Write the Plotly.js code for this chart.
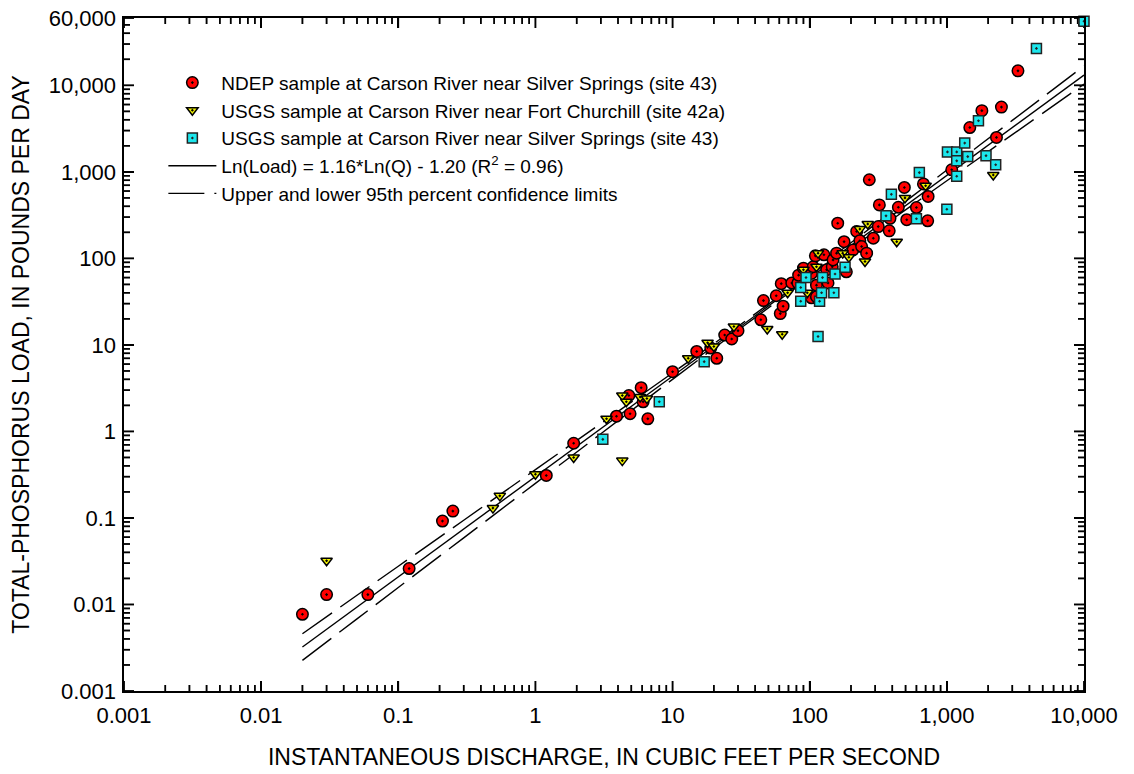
<!DOCTYPE html>
<html>
<head>
<meta charset="utf-8">
<script src="https://cdn.plot.ly/plotly-3.0.1.min.js"></script>
<style>
  html, body { margin: 0; padding: 0; background: #ffffff; }
  #chart { width: 1134px; height: 774px; }
</style>
</head>
<body>
<div id="chart"></div>
<script>
// ---- Data ----
// NDEP sample at Carson River near Silver Springs (site 43)
const ndepQ = [0.02, 0.03, 0.06, 0.12, 0.21, 0.25, 1.2, 1.9, 3.9, 4.9, 6.6, 4.8, 5.9, 6.1, 10,
  15, 19, 21, 24, 27, 30, 44, 46, 57, 61, 64, 62, 74, 82, 83, 90, 103, 103, 106, 110, 112, 112,
  127, 133, 136, 146, 148, 157, 160, 178, 185, 207, 220, 232, 239, 260, 272, 291, 316, 322,
  380, 385, 443, 490, 510, 600, 675, 725, 730, 1085, 1470, 1800, 2300, 2500, 3300];
const ndepLoad = [0.0077, 0.013, 0.013, 0.026, 0.092, 0.12, 0.31, 0.73, 1.5, 1.6, 1.4, 2.6, 3.2, 2.2, 4.9,
  8.4, 9.2, 7.0, 13, 11.7, 14.6, 19.5, 32.5, 37, 23, 28, 51, 52, 52, 64, 77, 67, 35, 80, 107, 36, 49,
  110, 74, 52, 80, 96, 115, 255, 156, 70, 125, 205, 160, 137, 115, 810, 171, 233, 415,
  208, 290, 390, 660, 280, 387, 725, 272, 520, 1055, 3250, 5100, 2500, 5600, 14700];

// USGS sample at Carson River near Fort Churchill (site 42a)
const fcQ = [0.03, 0.49, 0.55, 1.0, 1.9, 3.3, 4.3, 4.3, 4.6, 5.8, 6.5, 13, 18, 20, 28, 49, 63,
  69, 90, 96, 112, 115, 174, 193, 232, 253, 265, 431, 495, 700, 2180];
const fcLoad = [0.032, 0.13, 0.18, 0.32, 0.50, 1.4, 0.46, 2.6, 2.2, 2.5, 2.4, 7.0, 10.6, 9.6, 16.3, 15.3, 13.3,
  40, 74, 40, 80, 115, 115, 103, 218, 92, 250, 156, 500, 690, 920];

// USGS sample at Carson River near Silver Springs (site 43)
const ssQ = [3.1, 8.0, 17, 86, 86, 94, 115, 118, 122, 124, 150, 153, 181, 360, 394, 600, 630,
  1000, 1010, 1180, 1180, 1180, 1350, 1420, 1700, 1930, 2270, 4500, 10000];
const ssLoad = [0.81, 2.2, 6.4, 32, 46, 60, 12.5, 32, 40, 60, 40, 66, 79, 310, 550, 287, 980,
  370, 1700, 1700, 1340, 890, 2150, 1500, 3900, 1540, 1210, 26700, 55000];

// Regression line Ln(Load) = 1.16*Ln(Q) - 1.20, end points
const fitQ = [0.02, 10000];
const fitLoad = [0.00322, 13150];

// 95th percent confidence limits
const ciQ = [0.02, 0.05, 0.1, 0.3, 1, 3, 10, 30, 100, 300, 1000, 3000, 10000];
const ciUpper = [0.00459, 0.01278, 0.02767, 0.0942, 0.3614, 1.233, 4.746, 16.40, 66.55, 246.9, 1049, 3933, 16750];
const ciLower = [0.00226, 0.00682, 0.01570, 0.0589, 0.2512, 0.941, 3.998, 14.79, 59.56, 205.1, 789.4, 2691, 10330];

// Axis tick labels
const xTickVals = [0.001, 0.01, 0.1, 1, 10, 100, 1000, 10000];
const xTickText = ['0.001', '0.01', '0.1', '1', '10', '100', '1,000', '10,000'];
const yTickVals = [0.001, 0.01, 0.1, 1, 10, 100, 1000, 10000, 60000];
const yTickText = ['0.001', '0.01', '0.1', '1', '10', '100', '1,000', '10,000', '60,000'];

// ---- Build chart ----
const FONT = 'Liberation Sans, Arial, Helvetica, sans-serif';
const X_MIN = 0.001, X_MAX = 10000, Y_MIN = 0.001, Y_MAX = 60000;
const PLOT_W = 960, PLOT_H = 673;   // plot area in pixels
const xPxPerDec = PLOT_W / Math.log10(X_MAX / X_MIN);
const yPxPerDec = PLOT_H / Math.log10(Y_MAX / Y_MIN);
const MAJOR_LEN = 10, MINOR_LEN = 6;

function minorTicks(lo, hi, top) {
  const v = [];
  for (let d = lo; d < hi; d++) {
    for (let k = 2; k <= 9; k++) {
      const t = k * Math.pow(10, d);
      if (t < top) v.push(t);
    }
  }
  return v;
}
const xMinor = minorTicks(-3, 4, X_MAX * 1.0001);
const yMinor = minorTicks(-3, 5, Y_MAX);

// Inward tick marks on all four sides.
// (a) as line segments, (b) as line-shaped markers centred half a tick inside the frame
const tickX = [], tickY = [];
const vTickX = [], vTickY = [], vTickS = [];
const hTickX = [], hTickY = [], hTickS = [];
function addXTick(v, len) {
  const f = Math.pow(10, len / yPxPerDec);
  const h = Math.pow(10, len / 2 / yPxPerDec);
  tickX.push(v, v, null, v, v, null);
  tickY.push(Y_MIN, Y_MIN * f, null, Y_MAX, Y_MAX / f, null);
  vTickX.push(v, v);
  vTickY.push(Y_MIN * h, Y_MAX / h);
  vTickS.push(len / 1.4, len / 1.4);
}
function addYTick(v, len) {
  const f = Math.pow(10, len / xPxPerDec);
  const h = Math.pow(10, len / 2 / xPxPerDec);
  tickY.push(v, v, null, v, v, null);
  tickX.push(X_MIN, X_MIN * f, null, X_MAX, X_MAX / f, null);
  hTickY.push(v, v);
  hTickX.push(X_MIN * h, X_MAX / h);
  hTickS.push(len / 1.4, len / 1.4);
}
xTickVals.forEach(v => addXTick(v, MAJOR_LEN));
xMinor.forEach(v => addXTick(v, MINOR_LEN));
yTickVals.forEach(v => addYTick(v, MAJOR_LEN));
yMinor.forEach(v => addYTick(v, MINOR_LEN));

const ciX = ciQ.concat([null]).concat(ciQ);
const ciY = ciUpper.concat([null]).concat(ciLower);

const traces = [
  {
    x: tickX, y: tickY, type: 'scatter', mode: 'lines', connectgaps: false,
    line: { color: '#000000', width: 1.6, simplify: false }, showlegend: false, hoverinfo: 'skip'
  },
  {
    x: vTickX, y: vTickY, type: 'scatter', mode: 'markers', cliponaxis: false,
    marker: { symbol: 'line-ns', size: vTickS, color: '#000000', line: { color: '#000000', width: 1.6 } },
    showlegend: false, hoverinfo: 'skip'
  },
  {
    x: hTickX, y: hTickY, type: 'scatter', mode: 'markers', cliponaxis: false,
    marker: { symbol: 'line-ew', size: hTickS, color: '#000000', line: { color: '#000000', width: 1.6 } },
    showlegend: false, hoverinfo: 'skip'
  },
  {
    x: fitQ, y: fitLoad, type: 'scatter', mode: 'lines',
    name: 'Ln(Load) = 1.16*Ln(Q) - 1.20 (R<sup>2</sup> = 0.96)',
    line: { color: '#000000', width: 1.4 }, legendrank: 4, hoverinfo: 'skip'
  },
  {
    x: ciX, y: ciY, type: 'scatter', mode: 'lines', connectgaps: false,
    name: 'Upper and lower 95th percent confidence limits',
    line: { color: '#000000', width: 1.4, dash: '36px,10px', shape: 'spline' }, legendrank: 5, hoverinfo: 'skip'
  },
  {
    x: ndepQ, y: ndepLoad, type: 'scatter', mode: 'markers', cliponaxis: false,
    name: 'NDEP sample at Carson River near Silver Springs (site 43)',
    marker: { symbol: 'circle-dot', size: 11.5, color: '#FF0000', line: { color: '#000000', width: 1.5 } },
    legendrank: 1
  },
  {
    x: fcQ, y: fcLoad, type: 'scatter', mode: 'markers', cliponaxis: false,
    name: 'USGS sample at Carson River near Fort Churchill (site 42a)',
    marker: { symbol: 'triangle-down-dot', size: 10, color: '#F2F200', line: { color: '#000000', width: 1.5 } },
    legendrank: 2
  },
  {
    x: ssQ, y: ssLoad, type: 'scatter', mode: 'markers', cliponaxis: false,
    name: 'USGS sample at Carson River near Silver Springs (site 43)',
    marker: { symbol: 'square-dot', size: 10, color: '#1CE6EC', line: { color: '#222222', width: 1.5 } },
    legendrank: 3
  }
];

const axisCommon = {
  type: 'log',
  showgrid: false, zeroline: false,
  showline: true, linecolor: '#000000', linewidth: 1.6,
  mirror: 'allticks',
  ticks: 'inside', ticklen: MAJOR_LEN, tickwidth: 1.6, tickcolor: '#000000',
  tickmode: 'array',
  tickfont: { family: FONT, size: 22, color: '#000000' }
};

const layout = {
  width: 1134, height: 774,
  margin: { l: 124, r: 50, t: 18, b: 83, pad: 0 },
  paper_bgcolor: '#ffffff', plot_bgcolor: '#ffffff',
  font: { family: FONT, color: '#000000' },
  showlegend: true,
  legend: {
    x: 0.041, y: 0.932, xanchor: 'left', yanchor: 'top',
    bgcolor: 'rgba(0,0,0,0)', borderwidth: 0,
    font: { family: FONT, size: 19, color: '#000000' },
    itemwidth: 48, traceorder: 'normal'
  },
  xaxis: Object.assign({}, axisCommon, {
    range: [Math.log10(X_MIN), Math.log10(X_MAX)],
    tickvals: xTickVals, ticktext: xTickText,
    ticklabelstandoff: 4,
    title: { text: 'INSTANTANEOUS DISCHARGE, IN CUBIC FEET PER SECOND',
             font: { family: FONT, size: 23, color: '#000000' }, standoff: 22 }
  }),
  yaxis: Object.assign({}, axisCommon, {
    range: [Math.log10(Y_MIN), Math.log10(Y_MAX)],
    tickvals: yTickVals, ticktext: yTickText,
    ticklabelstandoff: 2,
    title: { text: 'TOTAL-PHOSPHORUS LOAD, IN POUNDS PER DAY',
             font: { family: FONT, size: 23, color: '#000000' }, standoff: 12 }
  })
};

Plotly.newPlot('chart', traces, layout, { displayModeBar: false, staticPlot: true });
</script>
</body>
</html>
